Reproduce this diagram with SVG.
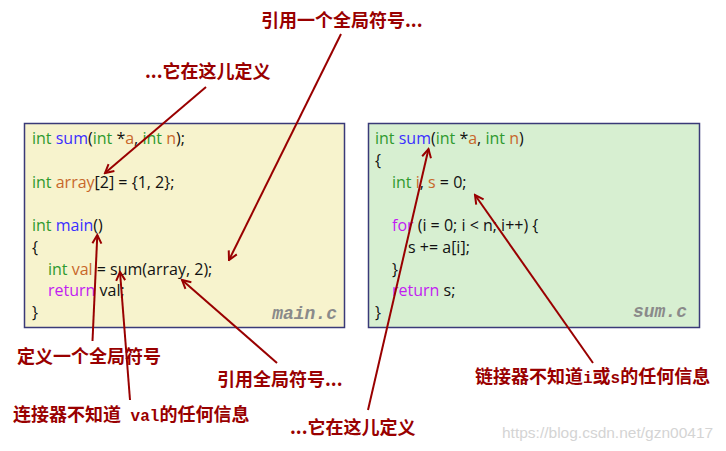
<svg xmlns="http://www.w3.org/2000/svg" width="726" height="451" viewBox="0 0 726 451">
<defs>
<style>
.code{font-family:"Open Sans","Liberation Sans",sans-serif;font-size:16px;fill:#111}
.k{fill:#2f9a2f}
.f{fill:#3b2fff}
.v{fill:#c8672a}
.r{fill:#c21cf2}
.fname{font-family:"Liberation Mono",monospace;font-size:18px;font-weight:bold;font-style:italic;fill:#8a8a8a;text-anchor:end}
.lbl{font-family:"Noto Sans CJK SC",sans-serif;font-size:18px;font-weight:bold;fill:#990000}
.mono{font-family:"Liberation Mono","Noto Sans CJK SC",monospace;font-size:16px}
.box{stroke:#3a3a78;stroke-width:1.5}
.conn line{stroke:#990000;stroke-width:2;marker-end:url(#ah)}
.wm{font-family:"Liberation Sans",sans-serif;font-size:15.5px;fill:#d4d4d4}
</style>
<marker id="ah" markerUnits="userSpaceOnUse" viewBox="0 0 12 12" refX="10.5" refY="6" markerWidth="12" markerHeight="12" orient="auto">
<path d="M2,1.5 L10.5,6 L2,10.5" fill="none" stroke="#990000" stroke-width="2"/>
</marker>
</defs>
<rect width="726" height="451" fill="#ffffff"/>

<g id="main-c">
<rect class="box" x="24.5" y="123.5" width="320" height="204" fill="#f7f3cd"/>
<text class="code" x="32" y="144"><tspan class="k">int</tspan> <tspan class="f">sum</tspan>(<tspan class="k">int</tspan> *<tspan class="v">a</tspan>, <tspan class="k">int</tspan> <tspan class="v">n</tspan>);</text>
<text class="code" x="32" y="187.5"><tspan class="k">int</tspan> <tspan class="v">array</tspan>[2] = {1, 2};</text>
<text class="code" x="32" y="231"><tspan class="k">int</tspan> <tspan class="f">main</tspan>()</text>
<text class="code" x="32" y="252.8">{</text>
<text class="code" x="48" y="274.6"><tspan class="k">int</tspan> <tspan class="v">val</tspan> = sum(array, 2);</text>
<text class="code" x="48" y="296.4"><tspan class="r">return</tspan> val;</text>
<text class="code" x="32" y="318">}</text>
<text class="fname" x="337" y="319">main.c</text>
</g>

<g id="sum-c">
<rect class="box" x="368.5" y="123.5" width="331" height="204" fill="#d7efd1"/>
<text class="code" x="375" y="144"><tspan class="k">int</tspan> <tspan class="f">sum</tspan>(<tspan class="k">int</tspan> *<tspan class="v">a</tspan>, <tspan class="k">int</tspan> <tspan class="v">n</tspan>)</text>
<text class="code" x="375" y="165.8">{</text>
<text class="code" x="392" y="187.5"><tspan class="k">int</tspan> <tspan class="v">i</tspan>, <tspan class="v">s</tspan> = 0;</text>
<text class="code" x="392" y="231"><tspan class="r">for</tspan> (i = 0; i &lt; n; i++) {</text>
<text class="code" x="408" y="252.8">s += a[i];</text>
<text class="code" x="392" y="274.6">}</text>
<text class="code" x="392" y="296.4"><tspan class="r">return</tspan> s;</text>
<text class="code" x="375" y="318">}</text>
<text class="fname" x="687" y="317">sum.c</text>
</g>

<g id="labels">
<text id="lbl-ref-top" class="lbl" x="261" y="27">引用一个全局符号...</text>
<text id="lbl-def-top" class="lbl" x="145" y="78">...它在这儿定义</text>
<text id="lbl-def-global" class="lbl" x="17" y="363">定义一个全局符号</text>
<text id="lbl-ref-global" class="lbl" x="217" y="386">引用全局符号...</text>
<text id="lbl-val" class="lbl" x="13" y="421">连接器不知道<tspan class="mono"> val</tspan>的任何信息</text>
<text id="lbl-def-bottom" class="lbl" x="290" y="434">...它在这儿定义</text>
<text id="lbl-is" class="lbl" x="475" y="383">链接器不知道<tspan class="mono">i</tspan>或<tspan class="mono">s</tspan>的任何信息</text>
</g>

<g id="connectors" class="conn">
<line x1="206" y1="87" x2="105" y2="173"/>
<line x1="341" y1="34" x2="229" y2="260"/>
<line x1="92.5" y1="341" x2="97.3" y2="235"/>
<line x1="130" y1="400" x2="120" y2="272"/>
<line x1="277" y1="363" x2="182" y2="280"/>
<line x1="368" y1="410" x2="428.5" y2="149"/>
<line x1="593" y1="363" x2="475" y2="195"/>
</g>

<text class="wm" x="502" y="438">https://blog.csdn.net/gzn00417</text>
</svg>
